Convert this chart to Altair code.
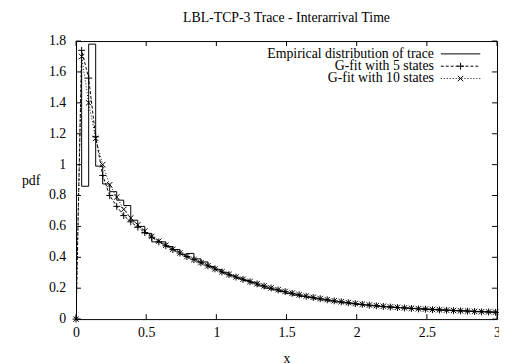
import altair as alt
import pandas as pd

title = "LBL-TCP-3 Trace - Interarrival Time"
series_names = ["Empirical distribution of trace", "G-fit with 5 states", "G-fit with 10 states"]
x_ticks = [0, 0.5, 1, 1.5, 2, 2.5, 3]
y_ticks = [0, 0.2, 0.4, 0.6, 0.8, 1.0, 1.2, 1.4, 1.6, 1.8]

# empirical histogram: bins of width 0.05 starting at 0.04
hist_first_edge = 0.04
hist_bin_width = 0.05
hist_start_top = 1.72
hist_vals = [0.86, 1.78, 0.99, 0.875, 0.825, 0.77, 0.735, 0.64, 0.60, 0.555,
             0.50, 0.50, 0.47, 0.45, 0.42, 0.425, 0.39, 0.37, 0.34, 0.32,
             0.30, 0.28, 0.265, 0.25, 0.235, 0.215, 0.20, 0.19, 0.178, 0.165,
             0.155, 0.147, 0.139, 0.131, 0.124, 0.117, 0.111, 0.105, 0.100, 0.095,
             0.091, 0.087, 0.083, 0.080, 0.077, 0.074, 0.071, 0.069, 0.067, 0.065,
             0.063, 0.060, 0.058, 0.056, 0.054, 0.052, 0.050, 0.048, 0.046, 0.045]

fit5 = [0.0, 1.74, 1.56, 1.18, 0.93, 0.80, 0.73, 0.67, 0.63, 0.595, 0.56,
        0.53, 0.50, 0.475, 0.45, 0.428, 0.405, 0.385, 0.365, 0.345, 0.325,
        0.305, 0.288, 0.272, 0.257, 0.242, 0.228, 0.214, 0.201, 0.189, 0.178,
        0.167, 0.157, 0.148, 0.140, 0.132, 0.125, 0.118, 0.112, 0.106, 0.100,
        0.095, 0.090, 0.086, 0.082, 0.078, 0.075, 0.072, 0.069, 0.066, 0.064,
        0.061, 0.059, 0.057, 0.055, 0.053, 0.051, 0.049, 0.047, 0.046, 0.044]

fit10 = [0.0, 1.70, 1.40, 1.17, 1.00, 0.87, 0.79, 0.71, 0.655, 0.61, 0.57,
         0.535, 0.505, 0.478, 0.452, 0.428, 0.405, 0.385, 0.365, 0.345, 0.325,
         0.306, 0.289, 0.273, 0.258, 0.243, 0.229, 0.215, 0.202, 0.190, 0.179,
         0.168, 0.158, 0.149, 0.141, 0.133, 0.126, 0.119, 0.113, 0.107, 0.101,
         0.096, 0.091, 0.087, 0.083, 0.079, 0.076, 0.073, 0.070, 0.067, 0.065,
         0.062, 0.060, 0.058, 0.056, 0.054, 0.052, 0.050, 0.048, 0.047, 0.045]

# build tables
edges = [round(hist_first_edge + hist_bin_width * k, 3) for k in range(len(hist_vals) + 1)]
hx, hy = [edges[0]], [hist_start_top]
for i, v in enumerate(hist_vals):
    hx += [edges[i], edges[i + 1]]
    hy += [v, v]
hist_df = pd.DataFrame({"x": hx, "y": hy, "o": list(range(len(hx)))})

fit_x = [0.0] + [round(hist_first_edge + hist_bin_width * k, 3) for k in range(len(fit5) - 1)]
fit5_df = pd.DataFrame({"x": fit_x, "y": fit5})
fit10_df = pd.DataFrame({"x": fit_x, "y": fit10})

FONT = "Liberation Serif"
FS = 14
W, H = 427, 282
xs = alt.Scale(domain=[0, 3], nice=False)
ys = alt.Scale(domain=[0, 1.8], nice=False)

PLUS = "M-1,0L1,0M0,-1L0,1"
CROSS = "M-1,-1L1,1M-1,1L1,-1"

x_axis = alt.Axis(values=x_ticks, format="~g", title="x", ticks=False,
                  domain=False, grid=False, labelPadding=7,
                  labelFlush=False, labelOverlap=False, titlePadding=12)
# y tick labels are drawn as text marks below (so every label is kept)
y_axis = alt.Axis(values=y_ticks, title="pdf", ticks=False, labels=False,
                  domain=False, grid=False,
                  titleAngle=0, titleAlign="center", titleBaseline="middle",
                  titlePadding=46)
xenc = alt.X("x:Q", scale=xs, axis=x_axis)
yenc = alt.Y("y:Q", scale=ys, axis=y_axis)

hist = alt.Chart(hist_df).mark_line(color="black", strokeWidth=1, clip=True).encode(
    x=xenc, y=yenc, order="o:Q")
l5 = alt.Chart(fit5_df).mark_line(color="black", strokeWidth=1, strokeDash=[3, 2], clip=True).encode(
    x=xenc, y=yenc)
p5 = alt.Chart(fit5_df).mark_point(shape=PLUS, size=49, filled=False, color="black",
                                   strokeWidth=1, opacity=1).encode(x=xenc, y=yenc)
l10 = alt.Chart(fit10_df).mark_line(color="black", strokeWidth=1, strokeDash=[1, 2], clip=True).encode(
    x=xenc, y=yenc)
p10 = alt.Chart(fit10_df).mark_point(shape=CROSS, size=30, filled=False, color="black",
                                     strokeWidth=1, opacity=1).encode(x=xenc, y=yenc)

# inward ticks on all four sides
xt_df = pd.DataFrame({"x": x_ticks})
yt_df = pd.DataFrame({"y": y_ticks})
tx = 3 * 5 / W
ty = 1.8 * 5 / H
t_bottom = alt.Chart(xt_df).mark_rule(color="black").encode(x=xenc, y=alt.datum(0), y2=alt.datum(ty))
t_top = alt.Chart(xt_df).mark_rule(color="black").encode(x=xenc, y=alt.datum(1.8), y2=alt.datum(1.8 - ty))
t_left = alt.Chart(yt_df).mark_rule(color="black").encode(y=yenc, x=alt.datum(0), x2=alt.datum(tx))
t_right = alt.Chart(yt_df).mark_rule(color="black").encode(y=yenc, x=alt.datum(3), x2=alt.datum(3 - tx))
y_labels = alt.Chart(yt_df).mark_text(align="right", baseline="middle", font=FONT, fontSize=FS,
                                      color="black", dx=-10).encode(
    y=yenc, x=alt.value(0), text=alt.Text("y:Q", format="~g"))

# legend (gnuplot style: text on the left, sample on the right)
legend_layers = []
dashes = [None, [3, 2], [1, 2]]
shapes = [None, PLUS, CROSS]
sizes = [None, 49, 30]
row_y = [13, 25.5, 38]
one = pd.DataFrame({"k": [0]})
for i, name in enumerate(series_names):
    legend_layers.append(alt.Chart(one).mark_text(text=name, align="right", baseline="middle",
                                                  font=FONT, fontSize=FS, color="black").encode(
        x=alt.value(363), y=alt.value(row_y[i])))
    rule_kw = dict(color="black", strokeWidth=1)
    if dashes[i]:
        rule_kw["strokeDash"] = dashes[i]
    legend_layers.append(alt.Chart(one).mark_rule(**rule_kw).encode(
        x=alt.value(370), x2=alt.value(410), y=alt.value(row_y[i])))
    if shapes[i]:
        legend_layers.append(alt.Chart(one).mark_point(shape=shapes[i], size=sizes[i], filled=False,
                                                       color="black", strokeWidth=1, opacity=1).encode(
            x=alt.value(390), y=alt.value(row_y[i])))

chart = alt.layer(hist, l5, p5, l10, p10, t_bottom, t_top, t_left, t_right, y_labels,
                  *legend_layers).properties(
    width=W, height=H,
    title=alt.TitleParams(title, font=FONT, fontSize=FS, fontWeight="normal", offset=9, color="black"),
    autosize=alt.AutoSizeParams(type="none"),
    padding={"left": 69, "top": 31, "right": 2, "bottom": 42},
).configure_view(stroke="black", strokeWidth=1).configure_axis(
    labelFont=FONT, labelFontSize=FS, labelColor="black", labelOverlap=False,
    titleFont=FONT, titleFontSize=FS, titleFontWeight="normal", titleColor="black")

chart.save("out.html", embed_options={"renderer": "svg", "actions": False})
